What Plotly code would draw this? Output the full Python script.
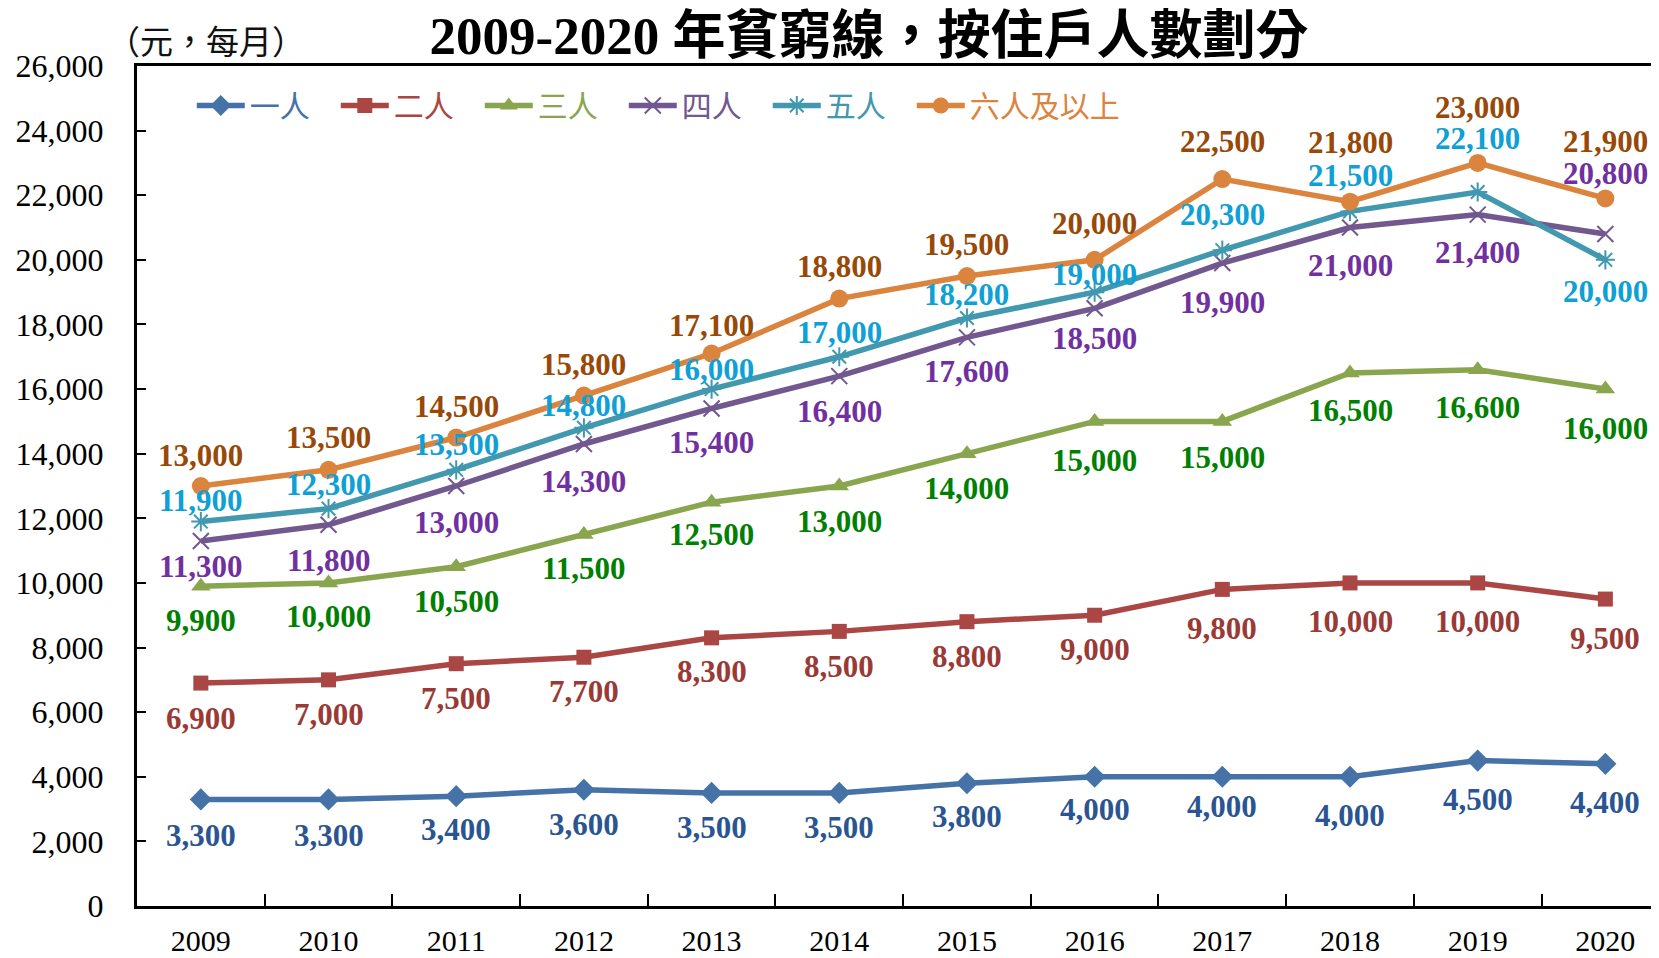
import plotly.graph_objects as go

years = ["2009", "2010", "2011", "2012", "2013", "2014", "2015", "2016", "2017", "2018", "2019", "2020"]
series_names = ["一人", "二人", "三人", "四人", "五人", "六人及以上"]
one = [3300, 3300, 3400, 3600, 3500, 3500, 3800, 4000, 4000, 4000, 4500, 4400]
two = [6900, 7000, 7500, 7700, 8300, 8500, 8800, 9000, 9800, 10000, 10000, 9500]
three = [9900, 10000, 10500, 11500, 12500, 13000, 14000, 15000, 15000, 16500, 16600, 16000]
four = [11300, 11800, 13000, 14300, 15400, 16400, 17600, 18500, 19900, 21000, 21400, 20800]
five = [11900, 12300, 13500, 14800, 16000, 17000, 18200, 19000, 20300, 21500, 22100, 20000]
six = [13000, 13500, 14500, 15800, 17100, 18800, 19500, 20000, 22500, 21800, 23000, 21900]
values = [one, two, three, four, five, six]

# styling
line_colors = ["#4572A7", "#AA4643", "#89A54E", "#71588F", "#4198AF", "#DB843D"]
label_colors = ["#2A5592", "#9A3A36", "#008000", "#7030A0", "#0FA0D6", "#984807"]
symbols = ["diamond", "square", "triangle-up", "x-thin-open", "asterisk-open", "circle"]
msizes = [17, 15, 17, 16, 16, 18]
# label vertical offsets in pixels (positive = below point)
offsets = [
    [36, 36, 33, 35, 35, 35, 33, 33, 30, 39, 39, 39],
    [35, 35, 35, 34, 34, 35, 35, 34, 39, 39, 39, 39],
    [34, 34, 35, 34, 32, 35, 35, 39, 36, 38, 38, 39],
    [26, 36, 36, 37, 34, 35, 34, 30, 39, 38, 38, -61],
    [-21, -24, -25, -22, -20, -24, -24, -18, -36, -36, -54, 32],
    [-31, -32, -31, -31, -28, -32, -32, -36, -38, -59, -55, -57],
]

fig = go.Figure()
for i, name in enumerate(series_names):
    sym = symbols[i]
    mline = dict(width=2, color=line_colors[i]) if sym.endswith("open") else dict(width=0)
    fig.add_trace(go.Scatter(
        x=years, y=values[i], mode="lines+markers",
        name=f"<span style='color:{line_colors[i]}'>{name}</span>",
        line=dict(color=line_colors[i], width=5.5),
        marker=dict(symbol=sym, size=msizes[i], color=line_colors[i], line=mline),
    ))
# invisible spacer entry so the last legend text is not clipped
fig.add_trace(go.Scatter(x=[None], y=[None], mode="lines", name=" ",
                         line=dict(color="rgba(0,0,0,0)"), hoverinfo="skip"))

annotations = []
for i in range(len(series_names)):
    for j, yr in enumerate(years):
        annotations.append(dict(
            x=j, y=values[i][j], xref="x", yref="y",
            text=f"<b>{values[i][j]:,}</b>", showarrow=False,
            yshift=-offsets[i][j], xanchor="center", yanchor="middle",
            font=dict(family="Liberation Serif", size=31, color=label_colors[i]),
        ))

annotations.append(dict(
    x=-0.021, y=1.031, xref="paper", yref="paper", xanchor="left", yanchor="middle",
    text="（元，每月）", showarrow=False,
    font=dict(family="Noto Sans CJK TC", size=33, color="#111111"),
))

# the page body has an 8px margin, so the figure is sized to fill the rest
W, H = 1651, 950
left, top, bottom = 129, 58, 52
fig.update_layout(
    width=W, height=H,
    margin=dict(l=left, r=0, t=top, b=bottom, autoexpand=False),
    paper_bgcolor="white", plot_bgcolor="white",
    title=dict(
        text="<b>2009-2020 年貧窮線，按住戶人數劃分</b>",
        x=0.5215, xanchor="center", xref="container",
        y=1 - 27 / H, yanchor="middle", yref="container",
        font=dict(family="Liberation Serif, Noto Sans CJK TC", size=53, color="black"),
    ),
    legend=dict(
        orientation="h", x=0.036, y=0.953, xanchor="left", yanchor="middle",
        font=dict(family="Noto Sans CJK TC", size=30),
        bgcolor="rgba(0,0,0,0)", entrywidth=81, entrywidthmode="pixels",
        itemwidth=48, tracegroupgap=0,
    ),
    annotations=annotations,
    font=dict(family="Liberation Serif", color="black"),
)
fig.update_xaxes(
    type="category", range=[-0.5, 11.42], automargin=False,
    showline=True, linecolor="black", linewidth=3, mirror=True,
    ticks="inside", ticklen=12, tickwidth=1.5, tickcolor="black", tickson="boundaries",
    showgrid=False, zeroline=False,
    tickfont=dict(family="Liberation Serif", size=30, color="black"),
    ticklabelstandoff=6,
)
fig.update_yaxes(
    range=[0, 26000], dtick=2000, tickformat=",", automargin=False,
    showline=True, linecolor="black", linewidth=3, mirror=False,
    ticks="inside", ticklen=9, tickwidth=1.5, tickcolor="black",
    showgrid=False, zeroline=False,
    tickfont=dict(family="Liberation Serif", size=32, color="black"),
    ticklabelstandoff=24,
)
fig.write_html("out.html")
